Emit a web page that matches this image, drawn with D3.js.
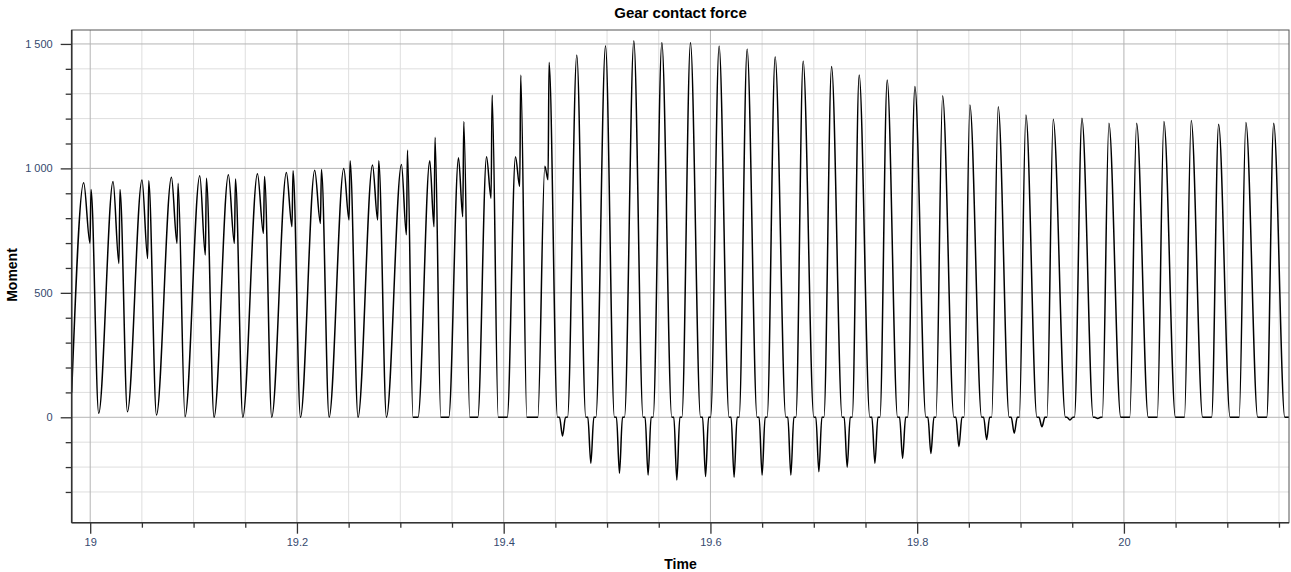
<!DOCTYPE html>
<html>
<head>
<meta charset="utf-8">
<script src="https://cdn.jsdelivr.net/npm/d3@7"></script>
<style>
  body { margin: 0; background: #fff; }
  text { font-family: "Liberation Sans", Arial, sans-serif; }
</style>
</head>
<body>
<div id="main"></div>
<script>
///////////
// DATA  //
///////////

// one entry per cycle of the contact force signal
const troughTime = [18.9821, 19.0082, 19.0360, 19.0641, 19.0917, 19.1198, 19.1476, 19.1756, 19.2034, 19.2311,
  19.2591, 19.2866, 19.3147, 19.3430, 19.3711, 19.3991, 19.4277, 19.4569, 19.4843, 19.5120,
  19.5397, 19.5675, 19.5953, 19.6229, 19.6500, 19.6778, 19.7049, 19.7323, 19.7591, 19.7859,
  19.8133, 19.8404, 19.8672, 19.8939, 19.9207, 19.9478, 19.9747, 20.0013, 20.0279, 20.0542,
  20.0805, 20.1071, 20.1338, 20.1600]
const troughValue = [100, 16, 22, 9, 2, 0, 0, 0, 0, 0,
  0, 0, 0, 0, 0, 0, 0, -75, -185, -225,
  -232, -252, -238, -241, -232, -232, -219, -201, -185, -165,
  -145, -118, -89, -64, -38, -11, -5, 0, 0, 0,
  0, 0, 0, 0]
// time the force stays at zero around each trough (s)
const plateauWidth = [0, 0, 0, 0, 0, 0, 0, 0, 0, 0,
  0, 0, 0.0048, 0.0077, 0.0077, 0.0087, 0.0106, 0.0097, 0.0097, 0.0097,
  0.0097, 0.0097, 0.0097, 0.0097, 0.0097, 0.0097, 0.0097, 0.0097, 0.0097, 0.0097,
  0.0097, 0.0097, 0.0097, 0.0097, 0.0097, 0.0087, 0.0087, 0.0087, 0.0087, 0.0087,
  0.0087, 0.0087, 0.0087, 0.0087]
const peakTime = [18.9937, 19.0221, 19.0501, 19.0786, 19.1060, 19.1337, 19.1618, 19.1898, 19.2172, 19.2453,
  19.2731, 19.3011, 19.3285, 19.3563, 19.3834, 19.4114, 19.4398, 19.4707, 19.4985, 19.5259,
  19.5530, 19.5807, 19.6084, 19.6355, 19.6626, 19.6897, 19.7172, 19.7439, 19.7710, 19.7978,
  19.8246, 19.8510, 19.8784, 19.9052, 19.9316, 19.9594, 19.9855, 20.0123, 20.0387, 20.0651,
  20.0916, 20.1180, 20.1449, null]
const peakValue = [942, 947, 953, 964, 970, 974, 978, 983, 993, 1000,
  1014, 1016, 1031, 1043, 1047, 1047, 1009, 1456, 1493, 1513,
  1506, 1506, 1492, 1480, 1449, 1431, 1409, 1375, 1355, 1329,
  1292, 1255, 1248, 1214, 1197, 1201, 1181, 1181, 1188, 1192,
  1177, 1184, 1181, null]
// second tooth contact: notch then spike, only in the first cycles
const spikeTime = [19.0008, 19.0288, 19.0566, 19.0850, 19.1124, 19.1405, 19.1686, 19.1962, 19.2237, 19.2514,
  19.2791, 19.3069, 19.3336, 19.3614, 19.3888, 19.4165, 19.4439]
const notchValue = [699, 618, 638, 699, 652, 699, 739, 766, 779, 793, 793, 733, 766, 806, 880, 927, 954]
const spikeValue = [915, 915, 950, 940, 960, 957, 967, 991, 996, 1031, 1031, 1074, 1125, 1188, 1295, 1375, 1426]

const NOTCH_LEAD = 0.0010
const DIP_WIDTH = 0.0058

const timeDomain = [18.9821, 20.1597]
const momentDomain = [-423.5, 1556]
const xMajor = [19, 19.2, 19.4, 19.6, 19.8, 20]
const xMinor = d3.range(19, 20.16, 0.05).map(d => +d.toFixed(2)).filter(d => !xMajor.includes(d))
const yMajor = [0, 500, 1000, 1500]
const yMinor = [-300, -200, -100, 100, 200, 300, 400, 600, 700, 800, 900, 1100, 1200, 1300, 1400]

///////////
// SETUP //
///////////

let width = 1291
let height = 572
let margin = {top: 30, right: 2, bottom: 49.3, left: 71.7}

const black = '#000'
const majorGrid = '#b4b4b4'
const minorGrid = '#dedede'
const tickColor = '#34496e'

let x = d3.scaleLinear()
  .domain(timeDomain)
  .range([margin.left, width - margin.right])

let y = d3.scaleLinear()
  .domain(momentDomain)
  .range([height - margin.bottom, margin.top])

// build the polyline from the cycle arrays
let points = []
troughTime.forEach((t, i) => {
  let w = plateauWidth[i], v = troughValue[i]
  if (w > 0) {
    points.push([t - w / 2, 0])
    if (v < 0) points.push([t - DIP_WIDTH / 2, 0], [t, v], [t + DIP_WIDTH / 2, 0])
    points.push([t + w / 2, 0])
  } else {
    points.push([t, v])
  }
  if (peakTime[i] != null) points.push([peakTime[i], peakValue[i]])
  if (i < spikeTime.length) {
    points.push([spikeTime[i] - NOTCH_LEAD, notchValue[i]])
    points.push([spikeTime[i], spikeValue[i]])
  }
})

//////////
// DRAW //
//////////
let svg = d3.select('#main').append('svg')
  .attr('width', width)
  .attr('height', height)

svg.append('rect')
  .attr('width', width).attr('height', height).attr('fill', '#fff')

svg.append('clipPath').attr('id', 'plot-clip')
  .append('rect')
  .attr('x', margin.left).attr('y', margin.top)
  .attr('width', width - margin.right - margin.left)
  .attr('height', height - margin.bottom - margin.top)

// grid
let grid = svg.append('g')
grid.selectAll('line.ymin').data(yMinor).enter().append('line')
  .attr('x1', margin.left).attr('x2', width - margin.right)
  .attr('y1', d => y(d)).attr('y2', d => y(d))
  .attr('stroke', minorGrid)
grid.selectAll('line.xmin').data(xMinor).enter().append('line')
  .attr('y1', margin.top).attr('y2', height - margin.bottom)
  .attr('x1', d => x(d)).attr('x2', d => x(d))
  .attr('stroke', minorGrid)
grid.selectAll('line.ymaj').data(yMajor).enter().append('line')
  .attr('x1', margin.left).attr('x2', width - margin.right)
  .attr('y1', d => y(d)).attr('y2', d => y(d))
  .attr('stroke', majorGrid)
grid.selectAll('line.xmaj').data(xMajor).enter().append('line')
  .attr('y1', margin.top).attr('y2', height - margin.bottom)
  .attr('x1', d => x(d)).attr('x2', d => x(d))
  .attr('stroke', majorGrid)

// signal
let line = d3.line()
  .x(d => x(d[0]))
  .y(d => y(d[1]))
  .curve(d3.curveMonotoneX)

svg.append('path')
  .datum(points)
  .attr('clip-path', 'url(#plot-clip)')
  .attr('d', line)
  .attr('fill', 'none')
  .attr('stroke', black)
  .attr('stroke-width', 1.5)
  .attr('stroke-linejoin', 'round')

// frame
svg.append('rect')
  .attr('x', margin.left).attr('y', margin.top)
  .attr('width', width - margin.right - margin.left)
  .attr('height', height - margin.bottom - margin.top)
  .attr('fill', 'none')
  .attr('stroke', '#555')

// axes
let fmt = d => d3.format(',')(d).replace(/,/g, ' ')

function style_axis(g) {
  g.select('.domain').remove()
  g.selectAll('.tick line').attr('stroke', '#333').attr('stroke-width', 1.3)
  g.selectAll('.tick text')
    .attr('fill', tickColor)
    .style('font-size', '11px')
}

svg.append('g')
  .attr('transform', `translate(${margin.left},0)`)
  .call(d3.axisLeft(y).tickValues(yMinor).tickSize(6).tickFormat(''))
  .call(style_axis)
svg.append('g')
  .attr('transform', `translate(${margin.left},0)`)
  .call(d3.axisLeft(y).tickValues(yMajor).tickSize(11).tickPadding(8).tickFormat(fmt))
  .call(style_axis)

svg.append('g')
  .attr('transform', `translate(0,${height - margin.bottom})`)
  .call(d3.axisBottom(x).tickValues(xMinor).tickSize(5).tickFormat(''))
  .call(style_axis)
svg.append('g')
  .attr('transform', `translate(0,${height - margin.bottom})`)
  .call(d3.axisBottom(x).tickValues(xMajor).tickSize(11).tickPadding(5).tickFormat(d3.format('')))
  .call(style_axis)

// axis lines
svg.append('line')
  .attr('x1', margin.left).attr('x2', margin.left)
  .attr('y1', margin.top).attr('y2', height - margin.bottom)
  .attr('stroke', '#333').attr('stroke-width', 1.6)
svg.append('line')
  .attr('x1', margin.left).attr('x2', width - margin.right)
  .attr('y1', height - margin.bottom).attr('y2', height - margin.bottom)
  .attr('stroke', '#333').attr('stroke-width', 1.6)

// titles
svg.append('text')
  .attr('x', 680.5).attr('y', 18)
  .attr('text-anchor', 'middle')
  .style('font-size', '15px').style('font-weight', 'bold')
  .text('Gear contact force')

svg.append('text')
  .attr('x', 680.5).attr('y', 569)
  .attr('text-anchor', 'middle')
  .style('font-size', '14px').style('font-weight', 'bold')
  .text('Time')

svg.append('text')
  .attr('transform', 'translate(17,275) rotate(-90)')
  .attr('text-anchor', 'middle')
  .style('font-size', '14px').style('font-weight', 'bold')
  .text('Moment')
</script>
</body>
</html>
